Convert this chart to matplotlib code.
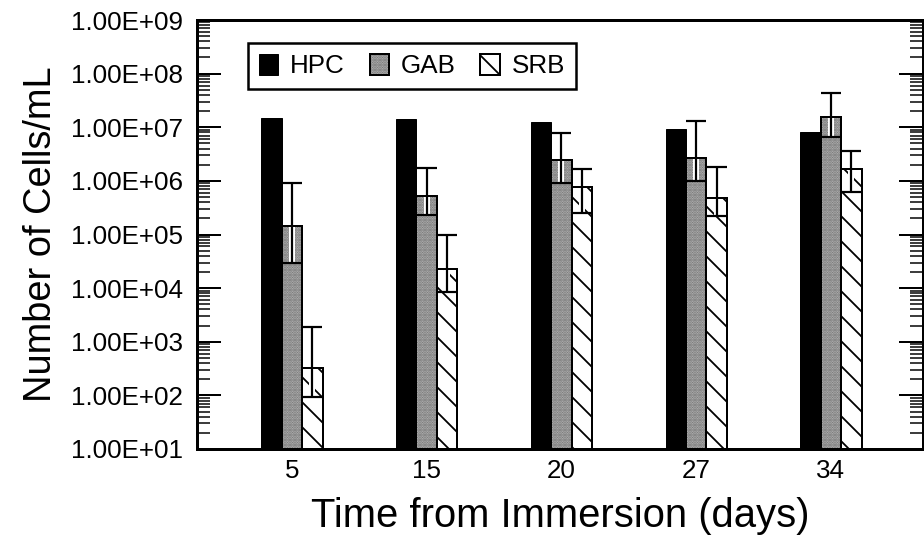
import numpy as np
import matplotlib
matplotlib.use('Agg')
import matplotlib.pyplot as plt
from matplotlib.ticker import FixedLocator, FuncFormatter, LogLocator, NullFormatter
from matplotlib.legend_handler import HandlerTuple

DPI = 75


def px(v):
    # sizes below are given in pixels, matplotlib wants points
    return v * 72 / DPI


days = ['5', '15', '20', '27', '34']
labels = ['HPC', 'GAB', 'SRB']

hpc = [1.47e7, 1.41e7, 1.27e7, 9.1e6, 8.3e6]
gab = [1.46e5, 5.2e5, 2.45e6, 2.64e6, 1.53e7]
srb = [3.3e2, 2.27e4, 7.8e5, 4.7e5, 1.64e6]

# ends of the error bars
gab_low = [3.0e4, 2.31e5, 9.2e5, 1.0e6, 6.5e6]
gab_high = [9.0e5, 1.71e6, 7.9e6, 1.32e7, 4.4e7]
srb_low = [92, 8.6e3, 2.55e5, 2.2e5, 6.3e5]
srb_high = [1.86e3, 9.8e4, 1.69e6, 1.84e6, 3.66e6]

plt.rcParams['font.family'] = ['Liberation Sans', 'DejaVu Sans']
plt.rcParams['hatch.linewidth'] = px(1.8)

fig = plt.figure(figsize=(924 / DPI, 541 / DPI), dpi=DPI)
ax = fig.add_axes([197 / 924, 92 / 541, 726 / 924, 429 / 541])

x = np.arange(len(days))
w = 0.152

hpc_bars = ax.bar(x - w, hpc, w, color='black', edgecolor='black',
                  linewidth=px(1), zorder=2)
gab_fill = ax.bar(x, gab, w, color='#bcbcbc', edgecolor='#6a6a6a',
                  hatch='.....', linewidth=0, zorder=2)
srb_fill = ax.bar(x + w, srb, w, color='white', edgecolor='black',
                  hatch='\\', linewidth=0, zorder=2)

# white strip behind each error line, then the bar outlines on top of it
for xs, low, high in [(x, gab_low, gab_high), (x + w, srb_low, srb_high)]:
    ax.vlines(xs, low, high, color='white', linewidth=px(6), zorder=3)

gab_edge = ax.bar(x, gab, w, fill=False, edgecolor='black',
                  linewidth=px(2), zorder=4)
srb_edge = ax.bar(x + w, srb, w, fill=False, edgecolor='black',
                  linewidth=px(2), zorder=4)


def error_bars(xs, vals, low, high):
    vals = np.array(vals)
    yerr = [vals - np.array(low), np.array(high) - vals]
    ax.errorbar(xs, vals, yerr=yerr, fmt='none', ecolor='black',
                elinewidth=px(2.2), capsize=px(10), capthick=px(2.2),
                zorder=5)


error_bars(x, gab, gab_low, gab_high)
error_bars(x + w, srb, srb_low, srb_high)

ax.set_yscale('log')
ax.set_ylim(1e1, 1e9)
ax.set_xlim(-0.705, 4.683)

ax.yaxis.set_major_locator(FixedLocator([10.0 ** k for k in range(1, 10)]))
ax.yaxis.set_major_formatter(FuncFormatter(lambda v, pos: f'{v:.2E}'))
ax.yaxis.set_minor_locator(LogLocator(base=10, subs=np.arange(2, 10)))
ax.yaxis.set_minor_formatter(NullFormatter())

ax.set_xticks(x)
ax.set_xticklabels(days)

for side in ['left', 'right', 'top', 'bottom']:
    ax.spines[side].set_linewidth(px(3))

ax.tick_params(axis='y', which='major', direction='in', left=True, right=True,
               length=px(24), width=px(2), labelsize=px(26), pad=px(14))
ax.tick_params(axis='y', which='minor', direction='in', left=True, right=True,
               length=px(13), width=px(1.5))
ax.tick_params(axis='x', which='both', length=0, labelsize=px(26), pad=px(10))

ax.set_ylabel('Number of Cells/mL', fontsize=px(38), labelpad=px(12))
ax.set_xlabel('Time from Immersion (days)', fontsize=px(40), labelpad=px(14))

leg = ax.legend([hpc_bars, (gab_fill, gab_edge), (srb_fill, srb_edge)], labels,
                handler_map={tuple: HandlerTuple(ndivide=1)},
                loc='upper left', bbox_to_anchor=(248 / 924, 1 - 43 / 541),
                bbox_transform=fig.transFigure, borderaxespad=0,
                ncol=3, fontsize=px(26), handlelength=0.75, handleheight=0.85,
                handletextpad=0.45, columnspacing=0.95, borderpad=0.42,
                fancybox=False, framealpha=1, edgecolor='black')
leg.get_frame().set_linewidth(px(2.5))
leg.set_zorder(6)

fig.savefig('out.png', dpi=DPI)
